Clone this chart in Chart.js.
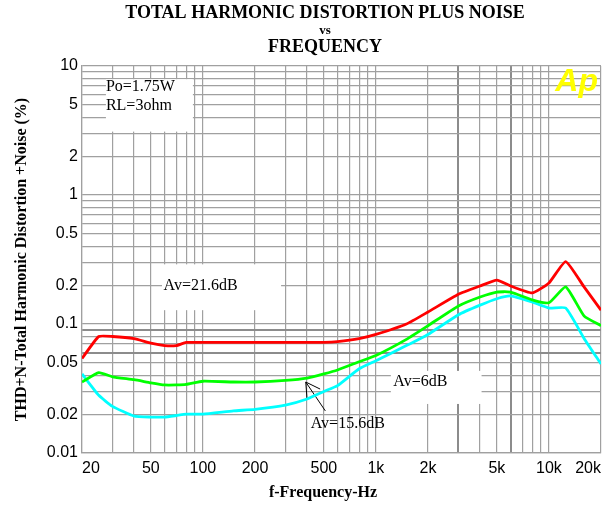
<!DOCTYPE HTML>
<head>
	<title>THD+N vs Frequency</title>
	<script src="https://cdn.jsdelivr.net/npm/chart.js@4/dist/chart.umd.min.js"></script>
	<style>
		body { margin: 0; background: #fff; }
	</style>
</head>

<body>
	<canvas id="myChart" width="611" height="506"></canvas>
	<script>
		// measurement frequencies (Hz)
		const freq = [20, 25, 30, 40, 50, 60, 70, 80, 100, 150, 200, 300, 400, 500, 600, 800,
			1000, 1500, 2000, 3000, 4000, 5000, 6000, 8000, 10000, 12500, 16000, 20000];
		// THD+N in %
		const av216 = [0.054, 0.080, 0.080, 0.077, 0.071, 0.068, 0.068, 0.072, 0.072, 0.072, 0.072, 0.072, 0.072, 0.072,
			0.073, 0.077, 0.083, 0.100, 0.124, 0.170, 0.197, 0.219, 0.197, 0.174, 0.208, 0.305, 0.193, 0.128];
		const av156 = [0.0355, 0.042, 0.039, 0.037, 0.035, 0.0337, 0.0337, 0.034, 0.036, 0.0355, 0.0355, 0.0365, 0.038, 0.041,
			0.044, 0.051, 0.057, 0.076, 0.097, 0.138, 0.162, 0.177, 0.177, 0.154, 0.146, 0.194, 0.115, 0.097];
		const av6 = [0.041, 0.028, 0.023, 0.0193, 0.019, 0.019, 0.0195, 0.020, 0.020, 0.0212, 0.0218, 0.0235, 0.0262, 0.030,
			0.0333, 0.045, 0.052, 0.068, 0.083, 0.118, 0.140, 0.157, 0.165, 0.148, 0.133, 0.133, 0.077, 0.049];

		const xGrid = [20, 30, 40, 50, 60, 70, 80, 90, 100, 200, 300, 400, 500, 600, 700, 800, 900,
			1000, 2000, 3000, 4000, 5000, 6000, 7000, 8000, 9000, 10000, 20000];
		const yGrid = [0.01, 0.02, 0.03, 0.04, 0.05, 0.06, 0.07, 0.08, 0.09, 0.1, 0.2, 0.3, 0.4, 0.5, 0.6, 0.7, 0.8, 0.9,
			1, 2, 3, 4, 5, 6, 7, 8, 9, 10];
		const xLabelValues = [20, 50, 100, 200, 500, 1000, 2000, 5000, 10000, 20000];
		const xLabelTexts = ['20', '50', '100', '200', '500', '1k', '2k', '5k', '10k', '20k'];
		const yLabelValues = [0.01, 0.02, 0.05, 0.1, 0.2, 0.5, 1, 2, 5, 10];
		const yLabelTexts = ['0.01', '0.02', '0.05', '0.1', '0.2', '0.5', '1', '2', '5', '10'];
		const xDark = [3000, 6000];
		const yDark = [0.09, 0.06];

		const same = (a, b) => Math.abs(a - b) < b * 1e-6;
		const pts = arr => freq.map((f, i) => ({ x: f, y: arr[i] }));

		const serif = '"Liberation Serif", "Times New Roman", serif';
		const narrow = '"Liberation Sans Narrow", "Arial Narrow", "Liberation Sans", Arial, sans-serif';
		const gridGray = '#a0a0a0';

		const decor = {
			id: 'decor',
			beforeDatasetsDraw(chart) {
				const { ctx, scales: { x, y } } = chart;
				const px = f => x.getPixelForValue(f);
				const py = v => y.getPixelForValue(v);
				ctx.save();
				// white panels behind the notes
				ctx.fillStyle = '#fff';
				[[27.5, 87.5, 7.9, 3.1], [58, 283, 0.29, 0.128], [1220, 4080, 0.0433, 0.024]].forEach(b => {
					ctx.fillRect(px(b[0]), py(b[2]), px(b[1]) - px(b[0]), py(b[3]) - py(b[2]));
				});
				ctx.fillStyle = '#000';
				ctx.font = '16px ' + serif;
				ctx.textBaseline = 'middle';
				ctx.textAlign = 'left';
				ctx.fillText('Po=1.75W', px(27.5), py(6.87));
				ctx.fillText('RL=3ohm', px(27.5), py(4.89));
				ctx.fillText('Av=21.6dB', px(59.2), py(0.197));
				ctx.fillText('Av=6dB', px(1260), py(0.0355));
				ctx.fillText('Av=15.6dB', px(420), py(0.0167));
				// arrow to the 15.6 dB curve
				const tx = px(393), ty = py(0.0355), sx = px(510), sy = py(0.0212);
				const a = Math.atan2(sy - ty, sx - tx);
				ctx.strokeStyle = '#000';
				ctx.lineWidth = 1;
				ctx.beginPath();
				ctx.moveTo(sx, sy);
				ctx.lineTo(tx, ty);
				ctx.moveTo(tx + 16 * Math.cos(a - 0.52), ty + 16 * Math.sin(a - 0.52));
				ctx.lineTo(tx, ty);
				ctx.lineTo(tx + 16 * Math.cos(a + 0.52), ty + 16 * Math.sin(a + 0.52));
				ctx.stroke();
				ctx.restore();
			},
			afterDraw(chart) {
				const { ctx, chartArea } = chart;
				ctx.save();
				ctx.fillStyle = '#000';
				ctx.textAlign = 'center';
				ctx.textBaseline = 'middle';
				ctx.font = 'bold 18px ' + serif;
				ctx.fillText('TOTAL HARMONIC DISTORTION PLUS NOISE', 325, 13);
				ctx.font = 'bold 13px ' + serif;
				ctx.fillText('vs', 325, 31);
				ctx.font = 'bold 18px ' + serif;
				ctx.fillText('FREQUENCY', 325, 47);
				ctx.font = 'bold 16px ' + serif;
				ctx.fillText('f-Frequency-Hz', 323, 493);
				// Ap logo
				ctx.fillStyle = '#ffff00';
				ctx.font = 'italic bold 32px "Liberation Sans", Arial, sans-serif';
				ctx.textAlign = 'right';
				ctx.textBaseline = 'alphabetic';
				ctx.fillText('Ap', chartArea.right - 3, chartArea.top + 25);
				ctx.restore();
			}
		};

		const gridColor = list => ctx => list.some(v => same(ctx.tick.value, v)) ? '#8c8c8c' : gridGray;
		const gridWidth = list => ctx => list.some(v => same(ctx.tick.value, v)) ? 2 : 1.2;

		const config = {
			type: 'line',
			data: {
				datasets: [{
					label: 'Av=21.6dB',
					data: pts(av216),
					borderColor: '#ff0000',
					backgroundColor: '#ff0000',
				}, {
					label: 'Av=15.6dB',
					data: pts(av156),
					borderColor: '#00ff00',
					backgroundColor: '#00ff00',
				}, {
					label: 'Av=6dB',
					data: pts(av6),
					borderColor: '#00ffff',
					backgroundColor: '#00ffff',
				}]
			},
			options: {
				responsive: false,
				animation: false,
				layout: { padding: { top: 66, right: 10, left: 0, bottom: 0 } },
				elements: {
					point: { radius: 0 },
					line: { borderWidth: 2.8, tension: 0.15 }
				},
				plugins: {
					legend: { display: false },
					tooltip: { enabled: false }
				},
				scales: {
					x: {
						type: 'logarithmic',
						min: 20,
						max: 20000,
						afterBuildTicks: s => { s.ticks = xGrid.map(v => ({ value: v })); },
						afterFit: s => { s.height = 53; },
						grid: { color: gridColor(xDark), lineWidth: gridWidth(xDark), drawTicks: false },
						border: { color: gridGray, width: 1.2 },
						ticks: {
							autoSkip: false,
							maxRotation: 0,
							align: 'inner',
							padding: 6,
							color: '#000',
							font: { family: narrow, size: 16 },
							callback: v => {
								const i = xLabelValues.findIndex(l => same(v, l));
								return i < 0 ? '' : xLabelTexts[i];
							}
						}
					},
					y: {
						type: 'logarithmic',
						min: 0.01,
						max: 10,
						afterBuildTicks: s => { s.ticks = yGrid.map(v => ({ value: v })); },
						afterFit: s => { s.width = 82; },
						grid: { color: gridColor(yDark), lineWidth: gridWidth(yDark), drawTicks: false },
						border: { color: gridGray, width: 1.2 },
						title: {
							display: true,
							text: 'THD+N-Total Harmonic Distortion +Noise (%)',
							color: '#000',
							font: { family: serif, size: 16, weight: 'bold' },
							padding: { top: 12, bottom: 0 }
						},
						ticks: {
							autoSkip: false,
							padding: 4,
							color: '#000',
							font: { family: narrow, size: 16 },
							callback: v => {
								const i = yLabelValues.findIndex(l => same(v, l));
								return i < 0 ? '' : yLabelTexts[i];
							}
						}
					}
				}
			},
			plugins: [decor]
		};

		const myChart = new Chart(document.getElementById('myChart'), config);
	</script>
</body>
